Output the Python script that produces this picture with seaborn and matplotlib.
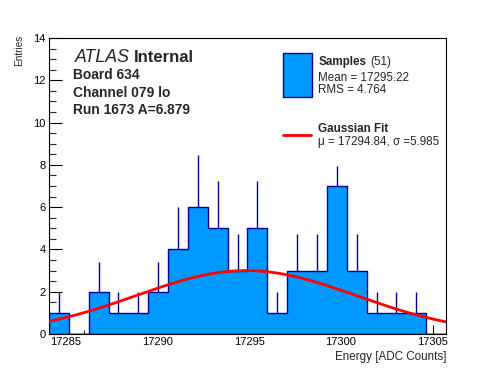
import numpy as np
import pandas as pd
import matplotlib
matplotlib.use("Agg")
import matplotlib.pyplot as plt
from matplotlib.patches import Rectangle
from matplotlib.lines import Line2D
import seaborn as sns

# ---- data ----
x_low = 17284.10
x_high = 17305.72
n_bins = 20
counts = [1, 0, 2, 1, 1, 2, 4, 6, 5, 3, 5, 1, 3, 3, 7, 3, 1, 1, 1, 0]
err_up = [1.0, 0.0, 1.41, 1.0, 1.0, 1.41, 2.0, 2.45, 2.24, 1.73, 2.24, 1.0,
          1.73, 1.73, 0.93, 1.73, 1.0, 1.0, 1.0, 0.0]
fit_mu = 17294.84
fit_sigma = 5.985
fit_amp = 3.0
x_ticks = [17285, 17290, 17295, 17300, 17305]
y_ticks = [0, 2, 4, 6, 8, 10, 12, 14]

sns.set_style("ticks")
plt.rcParams['font.family'] = ['Liberation Sans', 'DejaVu Sans']

FILL = '#0099ff'
EDGE = '#000099'

W, H = 496, 372
fig = plt.figure(figsize=(W / 100, H / 100), dpi=100)
ax = fig.add_axes([49 / W, 1 - 334 / H, (446 - 49) / W, (334 - 38) / H])

edges = [float(e) for e in np.linspace(x_low, x_high, n_bins + 1)]
centers = [0.5 * (edges[i] + edges[i + 1]) for i in range(n_bins)]
df = pd.DataFrame({"x": centers, "w": counts, "e": err_up})

sns.histplot(data=df, x="x", weights="w", bins=edges, element="step", fill=True,
             color=FILL, edgecolor=EDGE, linewidth=1.0, alpha=1.0, ax=ax)

nz = df[df["w"] > 0]
ax.vlines(nz["x"], nz["w"], nz["w"] + nz["e"], color=EDGE, linewidth=1.0, zorder=3)

xf = np.linspace(x_low, x_high, 300)
yf = fit_amp * np.exp(-0.5 * ((xf - fit_mu) / fit_sigma) ** 2)
sns.lineplot(x=xf, y=yf, color='red', linewidth=2.0, ax=ax, zorder=4)

ax.set_xlim(x_low, x_high)
ax.set_ylim(0, 14)
ax.set_xticks(x_ticks)
ax.set_xticks(np.arange(17285, 17306, 1), minor=True)
ax.set_yticks(y_ticks)
ax.set_yticks(np.arange(0, 14.01, 0.5), minor=True)
ax.set_xticklabels([str(t) for t in x_ticks])
ax.set_yticklabels([str(t) for t in y_ticks])
ax.set_xlabel("")
ax.set_ylabel("")
ax.tick_params(axis='x', which='major', direction='in', length=6.5, width=0.8,
               labelsize=8.0, pad=2.0, colors='black')
ax.tick_params(axis='x', which='minor', direction='in', length=3.0, width=0.8)
ax.tick_params(axis='y', which='major', direction='in', length=9.0, width=0.8,
               labelsize=8.0, pad=2.5, colors='black')
ax.tick_params(axis='y', which='minor', direction='in', length=4.8, width=0.8)
for s in ax.spines.values():
    s.set_visible(True)
    s.set_color('black')
    s.set_linewidth(0.8)

def fx(px):
    return px / W

def fy(py):
    return 1 - py / H

# axis titles
fig.text(fx(19.5), fy(35), "Entries", rotation=90, ha='center', va='top', fontsize=7.2)
fig.text(fx(446.5), fy(359.8), "Energy [ADC Counts]", ha='right', va='baseline', fontsize=8.4)

# header text
fig.text(fx(75), fy(62.3), "ATLAS", style='italic', ha='left', va='baseline', fontsize=12.8)
fig.text(fx(134.3), fy(62.3), "Internal", weight='bold', ha='left', va='baseline', fontsize=12.0)
fig.text(fx(73), fy(79.3), "Board 634", weight='bold', ha='left', va='baseline', fontsize=9.9)
fig.text(fx(73), fy(96.7), "Channel 079 lo", weight='bold', ha='left', va='baseline', fontsize=9.9)
fig.text(fx(73), fy(114.3), "Run 1673 A=6.879", weight='bold', ha='left', va='baseline', fontsize=9.9)

# legend
fig.patches.append(Rectangle((fx(283.3), fy(96.7)), (311.7 - 283.3) / W, (96.7 - 53.3) / H,
                             transform=fig.transFigure, facecolor=FILL, edgecolor=EDGE,
                             linewidth=1.0))
fig.lines.append(Line2D([fx(283), fx(311)], [fy(135), fy(135)], transform=fig.transFigure,
                        color='red', linewidth=2.0))
fig.text(fx(318.3), fy(65), "Samples", weight='bold', ha='left', va='baseline', fontsize=8.4)
fig.text(fx(370), fy(65), "(51)", ha='left', va='baseline', fontsize=8.4)
fig.text(fx(318.3), fy(81), "Mean = 17295.22", ha='left', va='baseline', fontsize=8.4)
fig.text(fx(318.3), fy(92.7), "RMS = 4.764", ha='left', va='baseline', fontsize=8.4)
fig.text(fx(318.3), fy(131.7), "Gaussian Fit", weight='bold', ha='left', va='baseline', fontsize=8.4)
fig.text(fx(318.3), fy(145), "\u03bc = 17294.84, \u03c3 =5.985", ha='left', va='baseline', fontsize=8.4)

fig.savefig("out.png", dpi=100, facecolor='white')
